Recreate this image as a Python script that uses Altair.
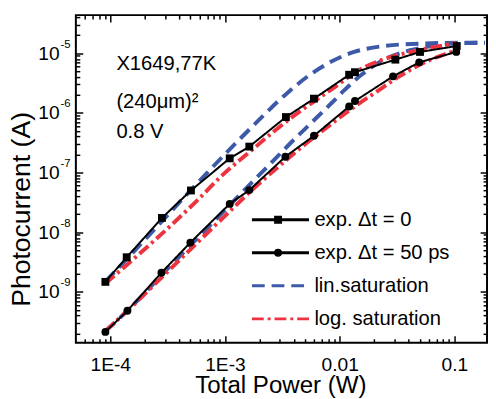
import json
import altair as alt
import pandas as pd

# ---------------- values ----------------
SERIES = ["exp. Δt = 0", "exp. Δt = 50 ps", "lin.saturation", "log. saturation"]

EXP0_P = [9.06e-5, 1.39e-4, 2.82e-4, 5.05e-4, 1.10e-3, 1.63e-3, 3.40e-3, 5.97e-3, 1.21e-2, 1.36e-2, 3.06e-2, 5.02e-2, 0.105]
EXP0_I = [1.47e-9, 3.8e-9, 1.73e-8, 5.0e-8, 1.73e-7, 2.72e-7, 8.5e-7, 1.73e-6, 4.35e-6, 4.8e-6, 7.8e-6, 1.05e-5, 1.32e-5]

EXP50_P = [9.06e-5, 1.41e-4, 2.79e-4, 4.99e-4, 1.10e-3, 1.63e-3, 3.36e-3, 5.97e-3, 1.21e-2, 1.36e-2, 2.92e-2, 4.94e-2, 0.104]
EXP50_I = [2.13e-10, 4.83e-10, 2.09e-9, 6.7e-9, 2.98e-8, 5.07e-8, 1.84e-7, 4.13e-7, 1.28e-6, 1.58e-6, 4.09e-6, 7.03e-6, 1.05e-5]

LIN0_P = [9.06e-5, 1.35e-4, 2.13e-4, 4.69e-4, 6.95e-4, 1.10e-3, 1.69e-3, 3.48e-3, 5.52e-3, 8.47e-3, 1.06e-2, 1.34e-2, 2.43e-2, 5.66e-2, 0.125, 0.185]
LIN0_I = [1.48e-9, 3.31e-9, 8.51e-9, 4.37e-8, 9.77e-8, 2.45e-7, 5.62e-7, 2.14e-6, 4.37e-6, 7.24e-6, 8.91e-6, 1.05e-5, 1.32e-5, 1.46e-5, 1.50e-5, 1.50e-5]

LIN50_P = [9.06e-5, 1.44e-4, 2.96e-4, 6.95e-4, 1.07e-3, 1.75e-3, 2.27e-3, 3.85e-3, 5.71e-3, 8.47e-3, 1.10e-2, 1.53e-2, 2.43e-2, 4.11e-2, 6.50e-2, 0.102, 0.185]
LIN50_I = [2.21e-10, 5.01e-10, 2.14e-9, 1.15e-8, 2.69e-8, 7.08e-8, 1.17e-7, 3.31e-7, 6.92e-7, 1.45e-6, 2.40e-6, 4.27e-6, 7.76e-6, 1.12e-5, 1.32e-5, 1.45e-5, 1.50e-5]

LOG0_P = [9.06e-5, 1.53e-4, 2.59e-4, 5.71e-4, 9.66e-4, 1.585e-3, 2.68e-3, 4.11e-3, 6.50e-3, 9.66e-3, 1.34e-2, 2.43e-2, 4.68e-2, 7.93e-2, 0.103]
LOG0_I = [1.38e-9, 3.31e-9, 8.13e-9, 3.39e-8, 9.33e-8, 2.09e-7, 4.90e-7, 9.33e-7, 1.74e-6, 2.95e-6, 4.68e-6, 7.94e-6, 1.10e-5, 1.35e-5, 1.48e-5]

LOG50_P = [9.06e-5, 1.53e-4, 2.77e-4, 5.71e-4, 1.26e-3, 1.75e-3, 2.35e-3, 3.37e-3, 4.69e-3, 7.43e-3, 1.03e-2, 1.34e-2, 2.12e-2, 3.37e-2, 5.70e-2, 9.04e-2, 0.1005]
LOG50_I = [2.19e-10, 5.62e-10, 1.70e-9, 6.61e-9, 2.88e-8, 5.25e-8, 8.71e-8, 1.58e-7, 2.69e-7, 5.37e-7, 8.71e-7, 1.26e-6, 2.29e-6, 4.17e-6, 7.24e-6, 1.02e-5, 1.10e-5]

ANNOT_TEXT = ["X1649,77K", "(240μm)²", "0.8 V"]
ANNOT_P = [1.13e-4, 1.13e-4, 1.13e-4]
ANNOT_I = [5.25e-6, 1.23e-6, 3.79e-7]

X_DOMAIN = [5.01e-5, 0.1928]
Y_DOMAIN = [1.406e-10, 4.345e-5]
X_MAJOR = [1e-4, 1e-3, 1e-2, 1e-1]
X_LABELS = ["1E-4", "1E-3", "0.01", "0.1"]
Y_MAJOR = [1e-9, 1e-8, 1e-7, 1e-6, 1e-5]
Y_LABELS = ["10", "10", "10", "10", "10"]
Y_EXPONENTS = ["-9", "-8", "-7", "-6", "-5"]

X_MINOR = [m * 10.0 ** e for e in range(-5, 0) for m in range(2, 10)
           if X_DOMAIN[0] <= m * 10.0 ** e <= X_DOMAIN[1]]
Y_MINOR = [m * 10.0 ** e for e in range(-10, -4) for m in range(2, 10)
           if Y_DOMAIN[0] <= m * 10.0 ** e <= Y_DOMAIN[1]]

# ---------------- tables ----------------
curve_rows = []
for ser, cid, ps, cs in [
    (SERIES[2], "lin0", LIN0_P, LIN0_I), (SERIES[2], "lin50", LIN50_P, LIN50_I),
    (SERIES[3], "log0", LOG0_P, LOG0_I), (SERIES[3], "log50", LOG50_P, LOG50_I),
]:
    for p, c in zip(ps, cs):
        curve_rows.append({"series": ser, "curve": cid, "power": p, "current": c})
curves = pd.DataFrame(curve_rows)

exp_rows = []
for ser, ps, cs in [(SERIES[0], EXP0_P, EXP0_I), (SERIES[1], EXP50_P, EXP50_I)]:
    for p, c in zip(ps, cs):
        exp_rows.append({"series": ser, "exp": ser, "power": p, "current": c})
exps = pd.DataFrame(exp_rows)

annot = pd.DataFrame({"text": ANNOT_TEXT, "power": ANNOT_P, "current": ANNOT_I})

# ---------------- styling ----------------
FONT = "Liberation Sans"
W, H = 418, 333
MAJOR = "abs(log(datum.value)/LN10 - round(log(datum.value)/LN10)) < 0.01"
TICK = {"condition": {"test": MAJOR, "value": -7}, "value": -4}

x_scale = alt.Scale(type="log", domain=X_DOMAIN, nice=False)
y_scale = alt.Scale(type="log", domain=Y_DOMAIN, nice=False)

x_lab = json.dumps(X_LABELS, ensure_ascii=False)
y_lab = json.dumps(Y_LABELS, ensure_ascii=False)
y_exp = json.dumps(Y_EXPONENTS, ensure_ascii=False)

x_axis_bottom = alt.Axis(
    orient="bottom", values=X_MAJOR + X_MINOR, tickSize=TICK, grid=False,
    labelExpr=f"{MAJOR} ? {x_lab}[round(log(datum.value)/LN10)+4] : ''",
    labelFontSize=19.5, labelPadding=20, labelFlush=False, labelOverlap=False,
    title="Total Power (W)", titleFontSize=24.5, titleBaseline="alphabetic",
    titleY=51, titleX=208,
)
y_axis_left = alt.Axis(
    orient="left", values=Y_MAJOR + Y_MINOR, tickSize=TICK, grid=False,
    labelExpr=f"{MAJOR} ? {y_lab}[round(log(datum.value)/LN10)+9] : ''",
    labelFontSize=19.5, labelPadding=24, labelFlush=False, labelOverlap=False,
    title="Photocurrent (A)", titleFontSize=27, titleBaseline="alphabetic",
    titleAngle=270, titleAlign="center", titleX=-47, titleY=197,
)
x_axis_top = alt.Axis(orient="top", values=X_MAJOR + X_MINOR, tickSize=TICK, grid=False,
                      labels=False, title=None)
y_axis_right = alt.Axis(orient="right", values=Y_MAJOR + Y_MINOR, tickSize=TICK, grid=False,
                        labels=False, title=None)
y_axis_sup = alt.Axis(orient="left", values=Y_MAJOR, ticks=False, grid=False,
                      labelFontSize=11.5,
                      labelExpr=f"{y_exp}[round(log(datum.value)/LN10)+9]",
                      labelPadding=6, labelOffset=-9, labelFlush=False,
                      labelOverlap=False, title=None)

color = alt.Color("series:N", scale=alt.Scale(domain=SERIES,
                  range=["black", "black", "#3d5aa9", "#ee3340"]),
                  legend=alt.Legend(orient="none", legendX=177.5, legendY=198, title=None,
                                    symbolType="stroke", symbolSize=3364, clipHeight=20,
                                    symbolStrokeWidth=3,
                                    labelFontSize=20.5, labelFont=FONT, rowPadding=12.6,
                                    labelOffset=4, padding=0, labelLimit=0))
dash = alt.StrokeDash("series:N", scale=alt.Scale(domain=SERIES,
                      range=[[1, 0], [1, 0], [13, 7], [12, 4, 3, 4]]))

curve_layer = alt.Chart(curves).mark_line(interpolate="monotone", strokeWidth=4).encode(
    x=alt.X("power:Q", scale=x_scale, axis=x_axis_bottom),
    y=alt.Y("current:Q", scale=y_scale, axis=y_axis_left),
    color=color, strokeDash=dash, detail="curve:N",
)
exp_line_layer = alt.Chart(exps).mark_line(strokeWidth=2).encode(
    x=alt.X("power:Q", scale=x_scale, axis=None),
    y=alt.Y("current:Q", scale=y_scale, axis=None),
    color=color, strokeDash=dash, detail="series:N",
)
point_layer = alt.Chart(exps).mark_point(filled=True, size=64, color="black", opacity=1).encode(
    x=alt.X("power:Q", scale=x_scale, axis=x_axis_top),
    y=alt.Y("current:Q", scale=y_scale, axis=y_axis_right),
    shape=alt.Shape("exp:N", scale=alt.Scale(domain=SERIES[:2], range=["square", "circle"]),
                    legend=alt.Legend(orient="none", legendX=195.3, legendY=198, title=None,
                                      symbolSize=64, labelOpacity=0, labelFontSize=20.5,
                                      clipHeight=20,
                                      labelFont=FONT, rowPadding=12.6, padding=0,
                                      symbolFillColor="black", symbolStrokeColor="black",
                                      labelLimit=0)),
)
text_layer = alt.Chart(annot).mark_text(align="left", baseline="alphabetic",
                                         fontSize=20.5, font=FONT, color="black").encode(
    x=alt.X("power:Q", scale=x_scale, axis=None),
    y=alt.Y("current:Q", scale=y_scale, axis=y_axis_sup),
    text="text:N",
)

chart = alt.layer(curve_layer, exp_line_layer, point_layer, text_layer).resolve_axis(
    x="independent", y="independent"
).properties(
    width=W, height=H,
    padding={"left": 69, "top": 4, "right": 1, "bottom": 54},
    autosize=alt.AutoSizeParams(type="none"),
).configure(background="white").configure_view(
    stroke="black", strokeWidth=2
).configure_axis(
    domain=False, grid=False, tickColor="black", tickWidth=1.5,
    labelColor="black", titleColor="black", labelFont=FONT, titleFont=FONT,
    titleFontWeight="normal",
)

chart.save("out.html", embed_options={"renderer": "svg", "actions": False})
